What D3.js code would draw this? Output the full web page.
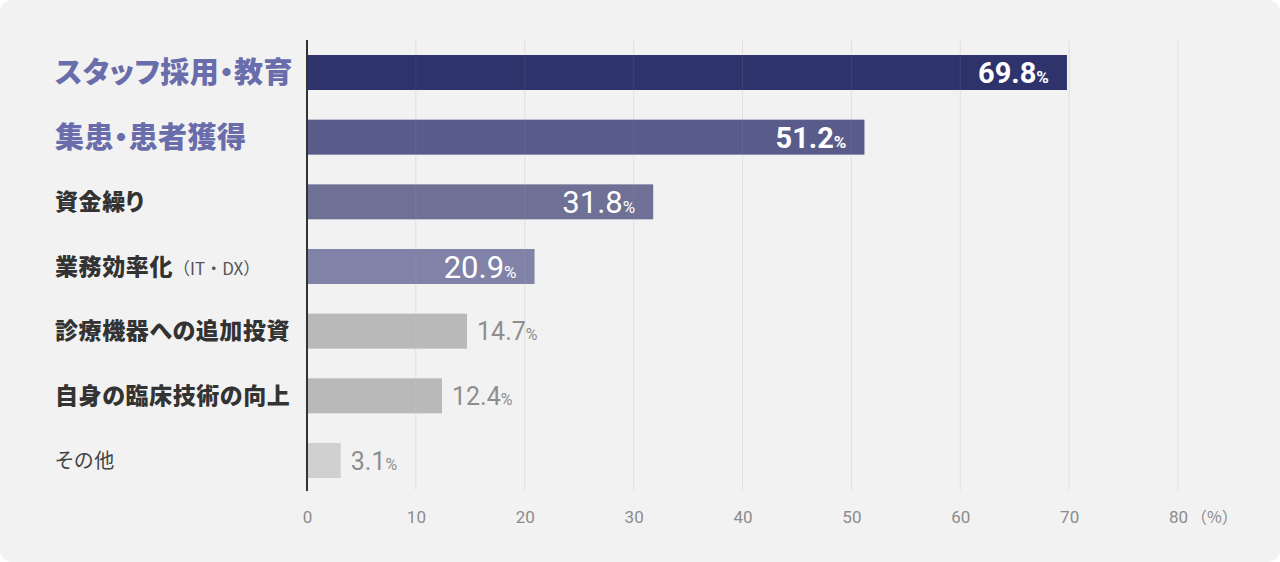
<!DOCTYPE html>
<html>
<head>
<meta charset="utf-8">
<script src="https://cdn.jsdelivr.net/npm/d3@7"></script>
<style>
  body { margin: 0; background: #ffffff; }
  svg { display: block; }
  .cat { font-feature-settings: "palt"; }
  .cat tspan { font-feature-settings: normal; }
</style>
</head>
<body>
<svg id="canvas" width="1280" height="562"></svg>
<script>
// data
const categories = ["スタッフ採用・教育", "集患・患者獲得", "資金繰り", "業務効率化", "診療機器への追加投資", "自身の臨床技術の向上", "その他"];
const subLabels = ["", "", "", "（IT・DX）", "", "", ""];
const values = [69.8, 51.2, 31.8, 20.9, 14.7, 12.4, 3.1];
const tickValues = [0, 10, 20, 30, 40, 50, 60, 70, 80];
const unitLabel = "（%）";

// styles per row
const barColors = ["#2f336b", "#595b8a", "#6e7096", "#8083a7", "#b9b9b9", "#b9b9b9", "#d0d0d0"];
const rowStyle = ["big", "big", "bold", "bold", "bold", "bold", "plain"];

const svg = d3.select("#canvas");
const W = 1280, H = 562;

// card background
svg.append("rect")
  .attr("x", 0).attr("y", 0)
  .attr("width", W).attr("height", H)
  .attr("rx", 12)
  .attr("fill", "#f2f2f2");

const x = d3.scaleLinear().domain([0, 80]).range([307, 1178]);
const y = d3.scaleBand()
  .domain(categories)
  .range([40, 493])
  .paddingInner(0.459)
  .paddingOuter(0.232);

// grid lines
svg.append("g")
  .selectAll("line")
  .data(tickValues.slice(1))
  .join("line")
  .attr("x1", d => x(d)).attr("x2", d => x(d))
  .attr("y1", 40).attr("y2", 490)
  .attr("stroke", "#dedede")
  .attr("stroke-width", 1);

// bars
svg.append("g")
  .selectAll("rect")
  .data(values)
  .join("rect")
  .attr("x", x(0))
  .attr("y", (d, i) => y(categories[i]))
  .attr("width", d => x(d) - x(0))
  .attr("height", y.bandwidth())
  .attr("fill", (d, i) => barColors[i]);

// grid lines faintly over bars
svg.append("g")
  .selectAll("line")
  .data(tickValues.slice(1))
  .join("line")
  .attr("x1", d => x(d)).attr("x2", d => x(d))
  .attr("y1", 40).attr("y2", 490)
  .attr("stroke", "#ffffff")
  .attr("stroke-opacity", 0.07);

// axis line
svg.append("line")
  .attr("x1", x(0)).attr("x2", x(0))
  .attr("y1", 40).attr("y2", 491)
  .attr("stroke", "#333")
  .attr("stroke-width", 2);

// x axis tick labels
const axis = svg.append("g")
  .attr("transform", "translate(0,500)")
  .call(d3.axisBottom(x).tickValues(tickValues).tickSize(0).tickPadding(0));
axis.select(".domain").remove();
axis.selectAll("text")
  .attr("dy", "1.35em")
  .attr("font-family", "Roboto, sans-serif")
  .attr("font-size", 17)
  .attr("fill", "#8c8c8c");

svg.append("text")
  .attr("x", x(80) + 13)
  .attr("y", 523)
  .attr("font-family", "'Noto Sans CJK JP', sans-serif")
  .attr("font-size", 16)
  .attr("fill", "#8c8c8c")
  .text(unitLabel);

// category labels
const labels = svg.append("g")
  .selectAll("text")
  .data(categories)
  .join("text")
  .attr("class", "cat")
  .attr("x", 55)
  .attr("y", d => y(d) + y.bandwidth() / 2)
  .attr("dy", "0.36em")
  .attr("font-family", "'Noto Sans CJK JP', sans-serif")
  .attr("font-size", (d, i) => rowStyle[i] === "big" ? 29 : rowStyle[i] === "bold" ? 23 : 20)
  .attr("font-weight", (d, i) => rowStyle[i] === "plain" ? 400 : 900)
  .attr("letter-spacing", (d, i) => rowStyle[i] === "big" ? 0.4 : rowStyle[i] === "bold" ? 0.6 : 1)
  .attr("fill", (d, i) => rowStyle[i] === "big" ? "#6a6dab" : rowStyle[i] === "bold" ? "#333" : "#444");

labels.text(d => d);
labels.filter((d, i) => subLabels[i] !== "")
  .append("tspan")
  .attr("font-size", 17)
  .attr("font-weight", 400)
  .attr("letter-spacing", 0)
  .attr("fill", "#555")
  .text((d) => subLabels[categories.indexOf(d)]);

// value labels
const vals = svg.append("g")
  .selectAll("text")
  .data(values)
  .join("text")
  .attr("y", (d, i) => y(categories[i]) + y.bandwidth() / 2)
  .attr("dy", "0.36em")
  .attr("font-family", "Roboto, sans-serif")
  .each(function(d, i) {
    const t = d3.select(this);
    const inside = i < 4;
    if (inside) {
      t.attr("x", x(d) - 18)
        .attr("text-anchor", "end")
        .attr("fill", "#ffffff")
        .attr("font-size", i < 2 ? 29 : 31)
        .attr("font-weight", i < 2 ? 700 : 400);
    } else {
      t.attr("x", x(d) + 10)
        .attr("text-anchor", "start")
        .attr("fill", "#8e8e8e")
        .attr("font-size", 25)
        .attr("font-weight", 400);
    }
    t.append("tspan").text(d.toFixed(1));
    t.append("tspan")
      .attr("font-size", inside ? 17 : 16)
      .text("%");
  });
</script>
</body>
</html>
